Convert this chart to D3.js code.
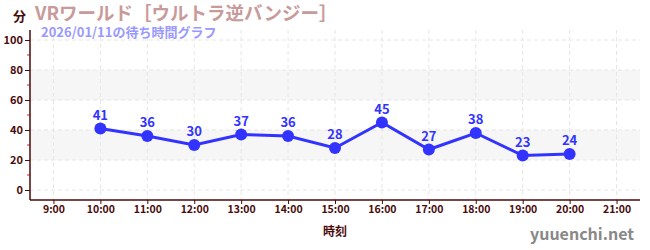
<!DOCTYPE html>
<html><head><meta charset="utf-8">
<script src="https://cdn.jsdelivr.net/npm/d3@7"></script>
<style>body{margin:0;background:#fff}svg{display:block}text{font-family:"Noto Sans CJK JP","Noto Sans",sans-serif}</style>
</head><body><svg id="c" width="650" height="250"></svg>
<script>
const hours = [10,11,12,13,14,15,16,17,18,19,20];
const waits = [41,36,30,37,36,28,45,27,38,23,24];
const xTicks = [9,10,11,12,13,14,15,16,17,18,19,20,21];
const yTicks = [0,20,40,60,80,100];
const yMinor = [10,30,50,70,90];
const bands = [[20,40],[60,80]];
const title = "VRワールド［ウルトラ逆バンジー］";
const subtitle = "2026/01/11の待ち時間グラフ";

const svg = d3.select("#c");
const L=30,R=640,T=30,B=200;
const x = d3.scaleLinear().domain([8.5,21.5]).range([L,R]);
const y = d3.scaleLinear().domain([0,100]).range([190,40]);
const dark="#4a0a0a";

svg.selectAll(".band").data(bands).join("rect")
  .attr("x",L).attr("width",R-L)
  .attr("y",d=>y(d[1])).attr("height",d=>y(d[0])-y(d[1]))
  .attr("fill","#f6f6f6");

svg.selectAll(".hg").data(yTicks).join("line")
  .attr("x1",L).attr("x2",R).attr("y1",d=>y(d)).attr("y2",d=>y(d))
  .attr("stroke","#e6e6e6").attr("stroke-dasharray","4,3");
svg.selectAll(".vg").data(xTicks).join("line")
  .attr("y1",T).attr("y2",B).attr("x1",d=>x(d)).attr("x2",d=>x(d))
  .attr("stroke","#e6e6e6").attr("stroke-dasharray","4,3");

// axes
const ya = svg.append("g").attr("transform",`translate(${L},0)`)
  .call(d3.axisLeft(y).tickValues(yTicks).tickSize(5).tickPadding(2));
ya.select(".domain").remove();
ya.selectAll("line").attr("stroke",dark);
ya.selectAll("text").attr("fill",dark).style("font-size","11px").style("font-weight","bold");
svg.selectAll(".ym").data(yMinor).join("line")
  .attr("x1",L-3).attr("x2",L).attr("y1",d=>y(d)).attr("y2",d=>y(d))
  .attr("stroke","#d22");
svg.append("line").attr("x1",L).attr("x2",L).attr("y1",T).attr("y2",B).attr("stroke",dark).attr("stroke-width",1.5);

const xa = svg.append("g").attr("transform",`translate(0,${B})`)
  .call(d3.axisBottom(x).tickValues(xTicks).tickSize(4).tickPadding(2).tickFormat(d=>d+":00"));
xa.select(".domain").remove();
xa.selectAll("line").attr("stroke",dark);
xa.selectAll("text").attr("fill",dark).style("font-size","10.5px").style("font-weight","bold");
svg.append("line").attr("x1",L).attr("x2",R).attr("y1",B).attr("y2",B).attr("stroke",dark).attr("stroke-width",1.5);

// line
const line = d3.line().x((d,i)=>x(hours[i])).y(d=>y(d));
svg.append("path").datum(waits).attr("d",line).attr("fill","none")
  .attr("stroke","#3333ff").attr("stroke-width",3);
svg.selectAll(".pt").data(waits).join("circle")
  .attr("cx",(d,i)=>x(hours[i])).attr("cy",d=>y(d)).attr("r",6).attr("fill","#3333ff");
svg.selectAll(".lb").data(waits).join("text")
  .attr("x",(d,i)=>x(hours[i])).attr("y",d=>y(d)-9)
  .attr("text-anchor","middle").attr("fill","#3333ff")
  .style("font-size","13px").style("font-weight","bold").text(d=>d);

// texts
svg.append("text").attr("x",13).attr("y",21).attr("fill",dark)
  .style("font-size","13px").style("font-weight","bold").text("分");
svg.append("text").attr("x",35).attr("y",20).attr("fill","#c99a9a")
  .style("font-size","18.5px").style("font-weight","bold").text(title);
svg.append("text").attr("x",41).attr("y",37).attr("fill","#9999ff")
  .style("font-size","13px").style("font-weight","bold").text(subtitle);
svg.append("text").attr("x",335).attr("y",236).attr("text-anchor","middle").attr("fill",dark)
  .style("font-size","12px").style("font-weight","bold").text("時刻");
svg.append("text").attr("x",634).attr("y",240).attr("text-anchor","end").attr("fill","#888")
  .style("font-size","16px").style("font-weight","bold").text("yuuenchi.net");
</script></body></html>
